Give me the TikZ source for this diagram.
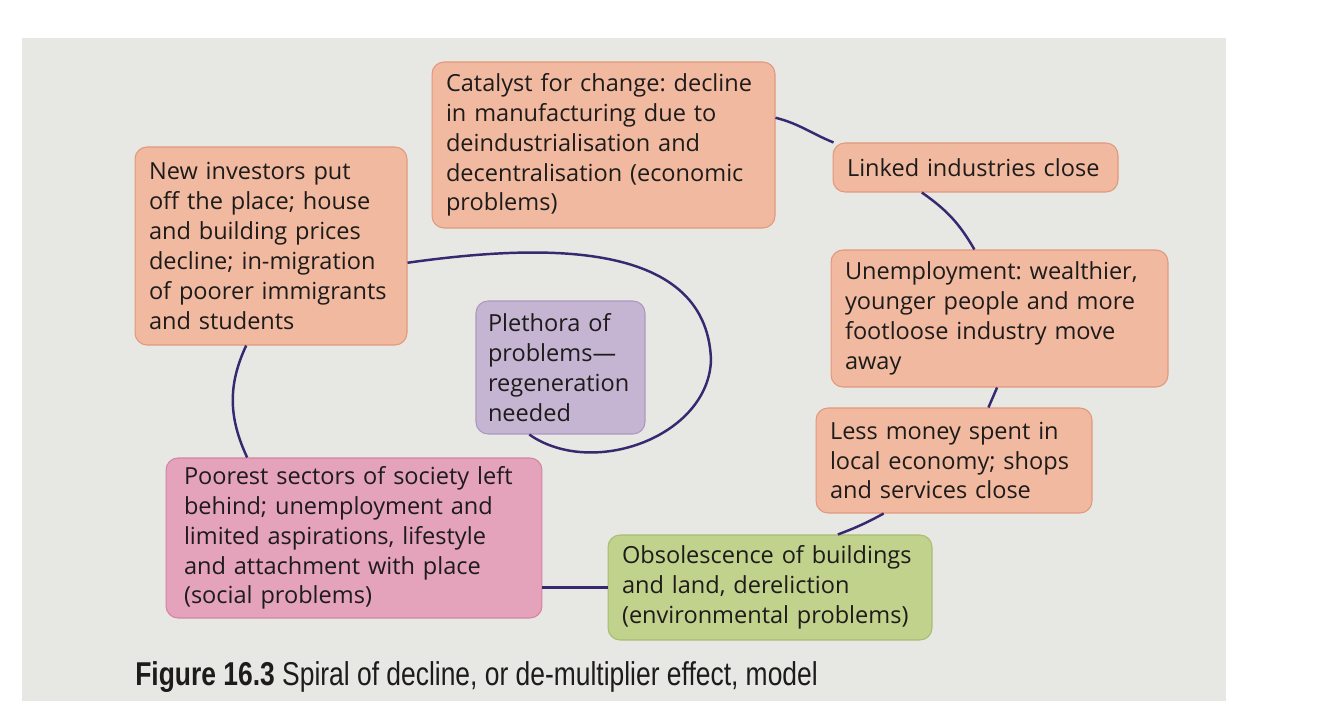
\documentclass[tikz,border=0pt]{standalone}
\usepackage{fontspec}
\setmainfont{Open Sans}
\newfontfamily\capfont[FakeStretch=0.8]{Liberation Sans}
\usetikzlibrary{positioning, calc}
\frenchspacing
\hyphenpenalty=10000

\definecolor{pagegray}{RGB}{231,231,227}
\definecolor{boxorange}{RGB}{241,186,160}
\definecolor{edgeorange}{RGB}{226,152,124}
\definecolor{boxpink}{RGB}{228,162,187}
\definecolor{edgepink}{RGB}{212,132,162}
\definecolor{boxpurple}{RGB}{197,180,210}
\definecolor{edgepurple}{RGB}{172,152,192}
\definecolor{boxgreen}{RGB}{192,210,140}
\definecolor{edgegreen}{RGB}{168,190,112}
\definecolor{spiral}{RGB}{55,40,112}
\definecolor{inkgray}{RGB}{30,27,27}

\begin{document}
\begin{tikzpicture}
    [
        x=0.02cm, y=-0.02cm,
        box/.style={draw, rectangle, rounded corners=0.24cm, align=left, text=inkgray,
            inner xsep=0.28cm, inner ysep=0pt, line width=0.6pt,
            font=\fontsize{13.4}{17}\selectfont},
        orangebox/.style={box, fill=boxorange, draw=edgeorange},
        pinkbox/.style={box, fill=boxpink, draw=edgepink},
        purplebox/.style={box, fill=boxpurple, draw=edgepurple},
        greenbox/.style={box, fill=boxgreen, draw=edgegreen},
        link/.style={draw=spiral, line width=1.4pt}
    ]
        % =========================================================================
        % PAGE
        % =========================================================================
        \useasboundingbox (0,0) rectangle (1332,712);
        \fill [pagegray] (22,38) rectangle (1226,701);

        % =========================================================================
        % NODES
        % =========================================================================
        % --- Top ---
        \node [orangebox, text width=6.3cm, minimum height=3.32cm] (catalyst) at (603.5,145)
            {Catalyst for change: decline\\in manufacturing due to\\deindustrialisation and\\decentralisation (economic\\problems)};
        \node [orangebox, text width=5.14cm, minimum height=0.98cm] (linked) at (975.5,167.5)
            {Linked industries close};
        % --- Right ---
        \node [orangebox, text width=6.18cm, minimum height=2.74cm] (unemp) at (999.5,318.5)
            {Unemployment: wealthier,\\younger people and more\\footloose industry move\\away};
        \node [orangebox, text width=4.96cm, minimum height=2.10cm] (lessmoney) at (954,460.5)
            {Less money spent in\\local economy; shops\\and services close};
        % --- Bottom ---
        \node [greenbox, text width=5.92cm, minimum height=2.10cm] (obsol) at (770,587.5)
            {Obsolescence of buildings\\and land, dereliction\\(environmental problems)};
        \node [pinkbox, text width=6.8cm, minimum height=3.20cm, inner xsep=0.36cm] (poorest) at (354,538)
            {Poorest sectors of society left\\behind; unemployment and\\limited aspirations, lifestyle\\and attachment with place\\(social problems)};
        % --- Left and centre ---
        \node [orangebox, text width=4.88cm, minimum height=3.96cm] (investors) at (271,246)
            {New investors put\\off the place; house\\and building prices\\decline; in-migration\\of poorer immigrants\\and students};
        \node [purplebox, text width=2.9cm, minimum height=2.66cm, inner xsep=0.24cm] (plethora) at (560.5,367.5)
            {Plethora of\\problems---\\regeneration\\needed};

        % --- Caption ---
        \node [anchor=base west, inner sep=0pt, text=inkgray, font=\capfont\fontsize{18.8}{20}\selectfont] (caption) at (135,685)
            {\textbf{Figure 16.3} Spiral of decline, or de-multiplier effect, model};

        % =========================================================================
        % PATHS
        % =========================================================================
        \coordinate (loopright) at (711,360);
        \draw [link] (catalyst.9) to[out=-14, in=158] (linked.170);
        \draw [link] (linked.205) to[out=-35, in=120] (unemp.110);
        \draw [link] (unemp.268) -- (lessmoney.57);
        \draw [link] (lessmoney.217) to[bend left=4] (obsol.38);
        \draw [link] (obsol.west) -- (obsol.west -| poorest.east);
        \draw [link] (poorest.143) to[out=115, in=-115] (investors.256);
        \draw [link] (investors.-7) to[out=8, in=92] (loopright)
            to[out=-92, in=-35] (plethora.245);

    \end{tikzpicture}
\end{document}
